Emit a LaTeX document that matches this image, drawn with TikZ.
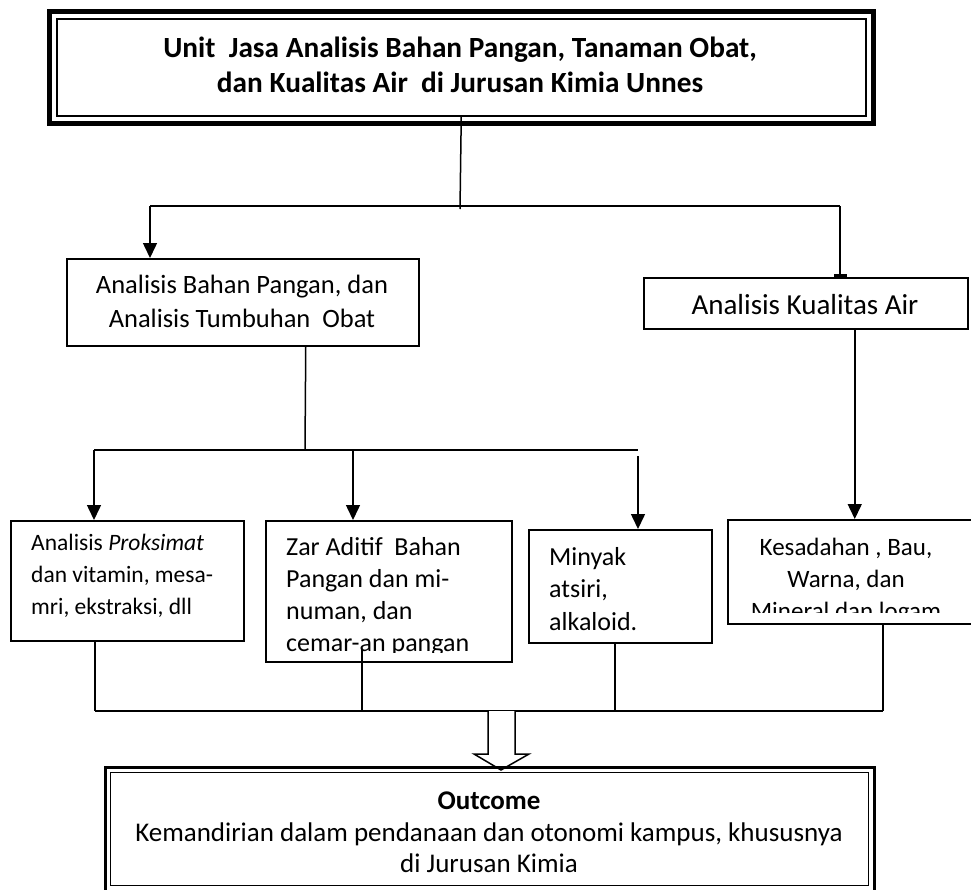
\documentclass[tikz,border=0pt]{standalone}
\usepackage{fontspec}
\setmainfont{Carlito}
\usetikzlibrary{arrows.meta}

\tikzset{
  kotak/.style 2 args={draw, line width=1.5pt, inner sep=0pt, anchor=north west,
    minimum width=#1, minimum height=#2},
  baris/.style={inner sep=0pt, anchor=base},
  panah/.style={line width=1.5pt, -{Triangle[length=15pt,width=14pt]}},
  garis/.style={line width=1.5pt},
  hurufjudul/.style={font=\fontsize{29.3}{35}\selectfont\bfseries},
  hurufisi/.style={font=\fontsize{26}{32}\selectfont},
  hurufhasil/.style={font=\fontsize{27}{32}\selectfont},
}

\begin{document}
\begin{tikzpicture}[x=1pt, y=-1pt]
\useasboundingbox (0,0) rectangle (971,889);

% judul
\node[kotak={809}{97}] (judul) at (56,18) {};
\draw[line width=5pt] ([shift={(-7,-6.5)}]judul.north west) rectangle ([shift={(6.5,6.5)}]judul.south east);
\node[baris, hurufjudul] (judul1) at (460,57) {Unit~ Jasa Analisis Bahan Pangan, Tanaman Obat,};
\node[baris, hurufjudul] (judul2) at (460,92) {dan Kualitas Air~ di Jurusan Kimia Unnes};

% cabang pertama
\coordinate (simpul1) at (460,206);
\coordinate (kiri1) at (150,206);
\coordinate (kanan1) at (840,206);
\draw[garis] (judul.south) -- ([yshift=-3pt]simpul1);
\draw[garis] (kiri1) -- (kanan1);

\node[kotak={352}{87}] (bahan) at (66,258) {};
\node[kotak={324}{51}] (air) at (643,277) {};
\draw[panah] (kiri1) -- (kiri1 |- bahan.north);
\draw[garis, -{Bar[width=13pt, line width=3pt]}] (kanan1) -- (kanan1 |- air.north);
\node[baris, font=\fontsize{26.5}{32}\selectfont] (bahan1) at (242,293) {Analisis Bahan Pangan, dan};
\node[baris, font=\fontsize{26.5}{32}\selectfont] (bahan2) at (242,327) {Analisis Tumbuhan~ Obat};
\node[baris, font=\fontsize{29}{35}\selectfont] (air1) at (805,314) {Analisis Kualitas Air};

% cabang kedua
\coordinate (bahanbawah) at ([xshift=63pt]bahan.south);
\coordinate (airbawah) at ([xshift=49pt]air.south);
\coordinate (simpul2) at (305,450);
\coordinate (kiri2) at (94,450);
\coordinate (tengah2) at (353,450);
\coordinate (kanan2) at (638,450);
\draw[garis] (bahanbawah) -- (simpul2);
\draw[garis] (kiri2) -- (kanan2);

\node[kotak={233}{120}] (proksimat) at (10,520) {};
\node[kotak={246}{141}] (aditif) at (265,520) {};
\node[kotak={183}{113}] (atsiri) at (528,529) {};
\node[kotak={245}{104}] (mineral) at (727,519) {};

\draw[panah] (kiri2) -- (kiri2 |- proksimat.north);
\draw[panah] (tengah2) -- (tengah2 |- aditif.north);
\draw[panah] ([yshift=-6pt]kanan2) -- (kanan2 |- atsiri.north);
\draw[panah] (airbawah) -- (airbawah |- mineral.north);

% isi kotak bawah
\foreach \isi [count=\i] in {{Analisis \textit{Proksimat}}, {dan vitamin, mesa-}, {mri, ekstraksi, dll}}
  \node[baris, anchor=base west, font=\fontsize{23.5}{28}\selectfont] (proksimat\i) at (31,{550+32*(\i-1)}) {\isi};
\begin{scope}
  \clip (aditif.north west) rectangle ([yshift=10.5pt]aditif.south east);
  \foreach \isi [count=\i] in {{Zar Aditif~ Bahan}, {Pangan dan mi-}, {numan, dan}, {cemar-an pangan}}
    \node[baris, anchor=base west, hurufisi] (aditif\i) at (286,{555+32*(\i-1)}) {\isi};
\end{scope}
\begin{scope}
  \clip (atsiri.north west) rectangle ([yshift=10.5pt]atsiri.south east);
  \foreach \isi [count=\i] in {Minyak, {atsiri,}, alkaloid.}
    \node[baris, anchor=base west, hurufisi] (atsiri\i) at (549,{565+32.5*(\i-1)}) {\isi};
\end{scope}
\begin{scope}
  \clip (mineral.north west) rectangle ([yshift=12pt]mineral.south east);
  \foreach \isi [count=\i] in {{Kesadahan , Bau,}, {Warna, dan}, {Mineral dan logam}}
    \node[baris, font=\fontsize{25}{31}\selectfont] (mineral\i) at (846,{555+32*(\i-1)}) {\isi};
\end{scope}

% kumpulan ke outcome
\coordinate (kumpul1) at (95,711);
\coordinate (kumpul2) at (362,711);
\coordinate (kumpul3) at (615,711);
\coordinate (kumpul4) at (883,711);
\coordinate (aditifdalam) at ([yshift=14pt]aditif.south);
\draw[garis] (kumpul1) -- (kumpul4);
\draw[garis] (proksimat.south -| kumpul1) -- (kumpul1);
\draw[garis] (aditifdalam -| kumpul2) -- (kumpul2);
\draw[garis] (atsiri.south -| kumpul3) -- (kumpul3);
\draw[garis] (mineral.south -| kumpul4) -- (kumpul4);

% panah besar
\draw[garis, fill=white] (488,711) -- (488,754) -- (474,754) -- (501,770) -- (529,754) -- (515,754) -- (515,711);

% outcome
\node[kotak={758}{113}, line width=1.2pt] (hasil) at (110,772) {};
\draw[line width=3pt] ([shift={(-5,-5)}]hasil.north west) rectangle ([shift={(5,5)}]hasil.south east);
\node[baris, font=\fontsize{27}{32}\selectfont\bfseries] (hasil1) at (489,809) {Outcome};
\node[baris, hurufhasil] (hasil2) at (489,841) {Kemandirian dalam pendanaan dan otonomi kampus, khususnya};
\node[baris, hurufhasil] (hasil3) at (489,872) {di Jurusan Kimia};
\end{tikzpicture}
\end{document}
